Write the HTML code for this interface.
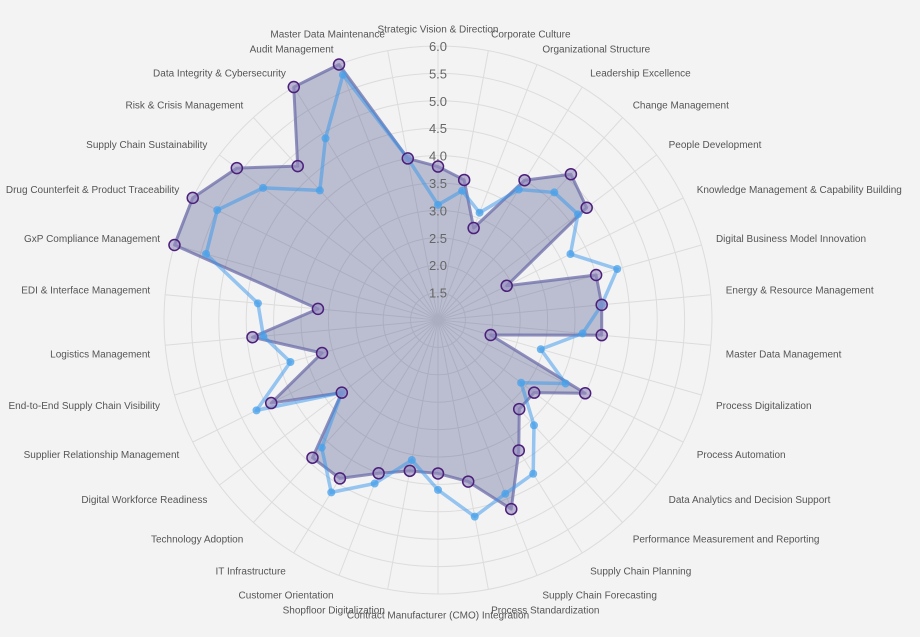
<!DOCTYPE html>
<html><head><meta charset="utf-8">
<style>
html,body{margin:0;padding:0;background:#f3f3f3;}
svg{display:block;font-family:"Liberation Sans",sans-serif;}
</style></head>
<body>
<svg id="chart" width="920" height="637" viewBox="0 0 920 637">
<rect x="0" y="0" width="920" height="637" fill="#f3f3f3"/>
<g id="grid"></g>
<g id="series"></g>
<g id="ticks"></g>
<g id="labels"></g>
</svg>
<script>
const categories = ["Strategic Vision & Direction","Corporate Culture","Organizational Structure","Leadership Excellence","Change Management","People Development","Knowledge Management & Capability Building","Digital Business Model Innovation","Energy & Resource Management","Master Data Management","Process Digitalization","Process Automation","Data Analytics and Decision Support","Performance Measurement and Reporting","Supply Chain Planning","Supply Chain Forecasting","Process Standardization","Contract Manufacturer (CMO) Integration","Shopfloor Digitalization","Customer Orientation","IT Infrastructure","Technology Adoption","Digital Workforce Readiness","Supplier Relationship Management","End-to-End Supply Chain Visibility","Logistics Management","EDI & Interface Management","GxP Compliance Management","Drug Counterfeit & Product Traceability","Supply Chain Sustainability","Risk & Crisis Management","Data Integrity & Cybersecurity","Audit Management","Master Data Maintenance"];
const seriesA = [3.8,3.6,2.8,4.0,4.6,4.4,2.4,4.0,4.0,4.0,2.0,4.0,3.2,3.2,3.8,4.7,4.0,3.8,3.8,4.0,4.4,4.4,3.2,4.4,3.2,4.4,3.2,6.0,6.0,5.6,4.8,6.0,6.0,4.0];
const seriesB = [3.1,3.4,3.1,3.8,4.15,4.2,3.7,4.4,4.0,3.65,2.95,3.6,2.9,3.6,4.3,4.4,4.65,4.1,3.6,4.2,4.7,4.15,3.2,4.7,3.8,4.2,4.3,5.4,5.5,5.0,4.2,4.9,5.8,4.0];
const tickValues = [1.5,2.0,2.5,3.0,3.5,4.0,4.5,5.0,5.5,6.0];
const tickLabels = ["1.5","2.0","2.5","3.0","3.5","4.0","4.5","5.0","5.5","6.0"];

const NS="http://www.w3.org/2000/svg";
const cx=438, cy=320, vMin=1.0, vMax=6.0, R=274;
function rScale(v){return (v-vMin)/(vMax-vMin)*R;}
function ang(i){return i*2*Math.PI/categories.length;}
function pt(i,v){const a=ang(i),r=rScale(v);return [cx+r*Math.sin(a), cy-r*Math.cos(a)];}
function mk(tag,attrs,parent){const e=document.createElementNS(NS,tag);for(const k in attrs)e.setAttribute(k,attrs[k]);parent.appendChild(e);return e;}

const grid=document.getElementById('grid');
tickValues.forEach((t,k)=>{
  const c=mk('circle',{cx:cx,cy:cy,r:rScale(t),fill:'none',stroke:'#dcdcdc','stroke-width':1},grid);
  
  
});
categories.forEach((c,i)=>{
  const p=pt(i,vMax);
  const l=mk('line',{x1:cx,y1:cy,x2:p[0],y2:p[1],stroke:'#dcdcdc','stroke-width':1},grid);
  
  
});

const ser=document.getElementById('series');
const ptsA=seriesA.map((v,i)=>pt(i,v));
const ptsB=seriesB.map((v,i)=>pt(i,v));
const areaA=mk('polygon',{points:ptsA.map(p=>p.join(',')).join(' '),fill:'rgba(60,70,130,0.3)',stroke:'rgba(110,110,170,0.75)','stroke-width':3,'stroke-linejoin':'round'},ser);


const lineB=mk('polygon',{points:ptsB.map(p=>p.join(',')).join(' '),fill:'none',stroke:'rgba(54,150,235,0.5)','stroke-width':3.5,'stroke-linejoin':'round'},ser);


ptsB.forEach(p=>{
  const c=mk('circle',{cx:p[0],cy:p[1],r:4,fill:'rgba(70,160,235,0.75)',stroke:'none'},ser);
  
  
});
ptsA.forEach(p=>{
  const c=mk('circle',{cx:p[0],cy:p[1],r:5.5,fill:'rgba(150,140,190,0.6)',stroke:'#4b1f7a','stroke-width':1.5},ser);
  
  
});

const ticks=document.getElementById('ticks');
tickValues.forEach((t,k)=>{
  const tx=mk('text',{x:cx,y:cy-rScale(t)+5,'text-anchor':'middle','font-size':13,fill:'#666'},ticks);
  tx.textContent=tickLabels[k];
  
  
});

const labels=document.getElementById('labels');
categories.forEach((c,i)=>{
  const a=ang(i), r=289;
  const x=cx+r*Math.sin(a), y=cy-r*Math.cos(a);
  const s=Math.sin(a), co=Math.cos(a);
  let anchor='middle';
  if(s>0.05)anchor='start'; else if(s<-0.05)anchor='end';
  const extra=-Math.sign(co)*6*Math.pow(1-Math.abs(co),2);
  const dy=5.5-4*co+extra;
  const t=mk('text',{x:x,y:y+dy,'text-anchor':anchor,'font-size':10,fill:'#555'},labels);
  t.textContent=c;
  
  
});
</script>
</body></html>
